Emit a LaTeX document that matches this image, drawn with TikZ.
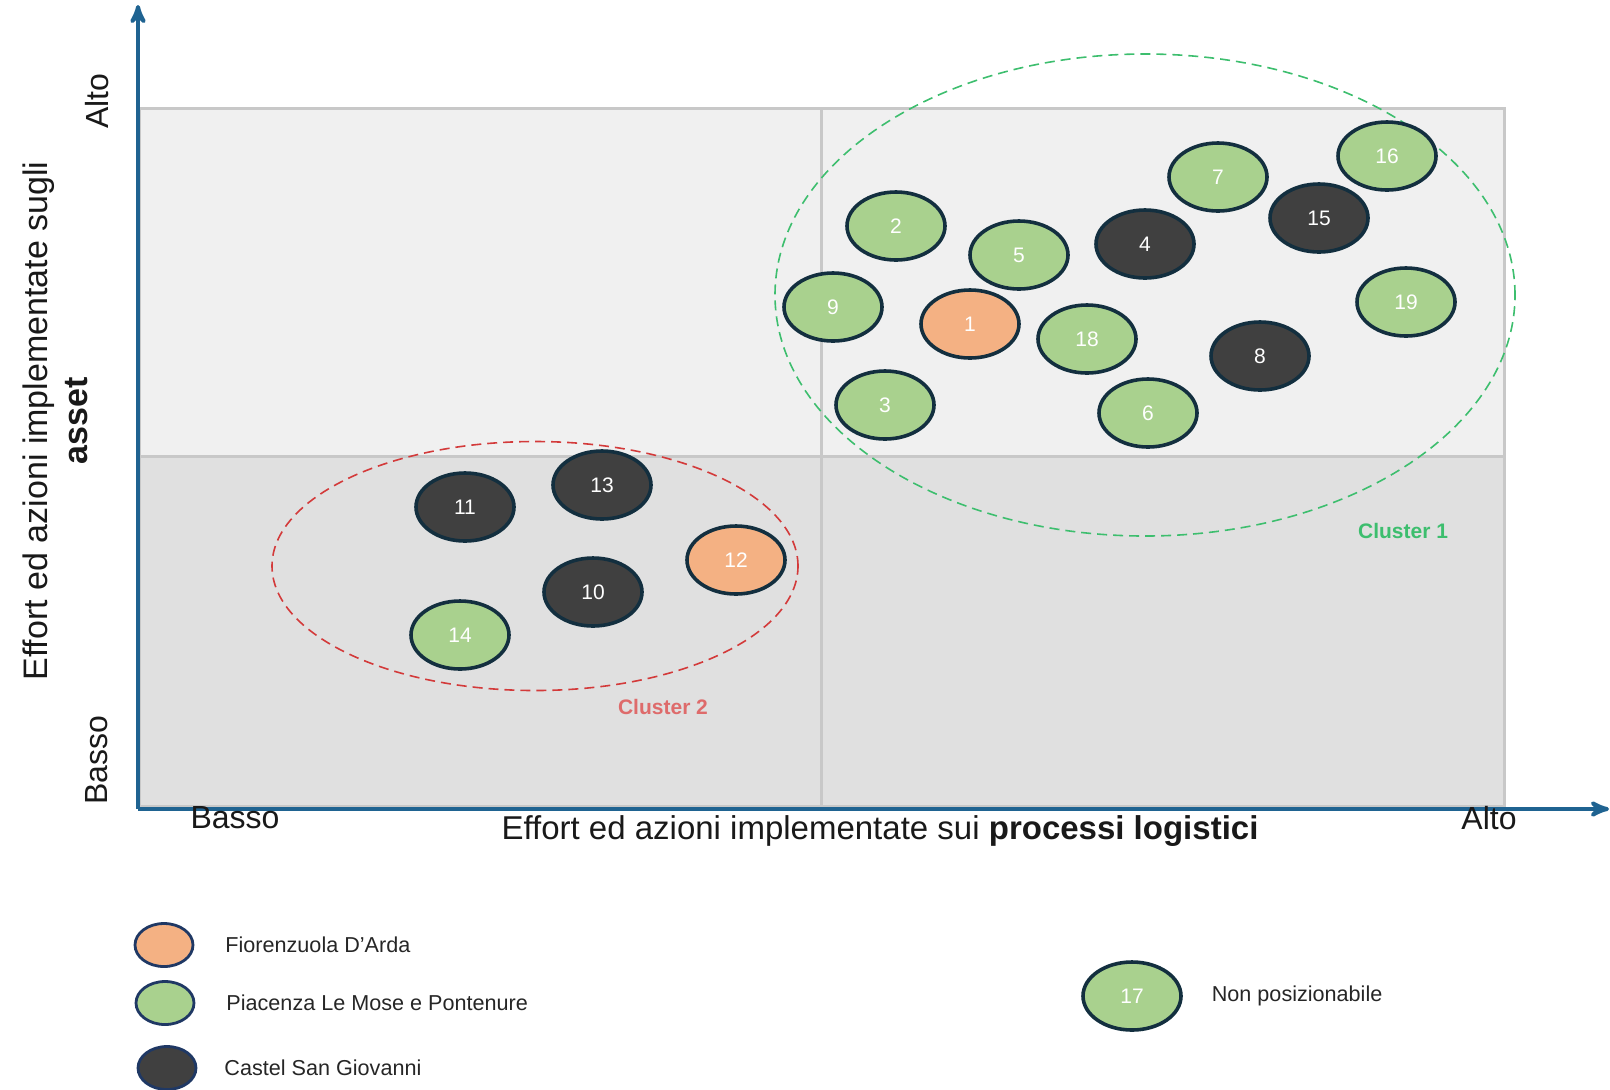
\documentclass[tikz,border=0pt]{standalone}
\usepackage{fontspec}
\setmainfont{Liberation Sans}
\setsansfont{Liberation Sans}
\usepackage{xcolor}
\definecolor{colorFiorenzuola}{HTML}{F4B183}
\definecolor{colorPiacenza}{HTML}{A9D18E}
\definecolor{colorCastel}{HTML}{404040}
\definecolor{colorBorder}{HTML}{132F3F}
\definecolor{colorLegendBorder}{HTML}{1F3864}
\definecolor{colorAxis}{HTML}{1F6391}
\definecolor{colorHigh}{HTML}{F0F0F0}
\definecolor{colorLow}{HTML}{E0E0E0}
\definecolor{colorGrid}{HTML}{C8C8C8}
\definecolor{colorClusterOne}{HTML}{3DBE6E}
\definecolor{colorClusterTwo}{HTML}{D33A3A}
\colorlet{colorClusterTwoText}{colorClusterTwo!75!white}
\usetikzlibrary{arrows, shapes.geometric, positioning}
\tikzset{
  site/.style={ellipse, draw=colorBorder, line width=1.8pt, minimum width=49pt, minimum height=34pt, inner sep=0pt, text=white, font=\sffamily\fontsize{10.5}{12}\selectfont},
  fiorenzuola/.style={site, fill=colorFiorenzuola},
  piacenza/.style={site, fill=colorPiacenza},
  castel/.style={site, fill=colorCastel},
  legendmark/.style={ellipse, draw=colorLegendBorder, line width=1.4pt, minimum width=29pt, minimum height=21.5pt, inner sep=0pt},
  legendtext/.style={text=black!85, font=\sffamily\fontsize{10.8}{12}\selectfont},
  axislabel/.style={text=black!90, font=\sffamily\fontsize{16}{19}\selectfont},
  cluster/.style={ellipse, dashed, dash pattern=on 5pt off 3pt, line width=0.8pt, inner sep=0pt}
}

\begin{document}
\begin{tikzpicture}[x=0.5pt, y=-0.5pt, >=stealth']
\useasboundingbox (0,0) rectangle (1610,1089);
% quadranti
\fill[colorHigh] (139,108) rectangle (1504,456);
\fill[colorLow] (139,456) rectangle (1504,806);
\draw[colorGrid, line width=1.5pt] (139,108) rectangle (1504,806);
\draw[colorGrid, line width=1.5pt] (139,456) -- (1504,456);
\draw[colorGrid, line width=1.5pt] (821,108) -- (821,806);
% assi
\coordinate (origin) at (138,809);
\coordinate (ytip) at (138,5);
\coordinate (xtip) at (1609,809);
\draw[->, colorAxis, line width=2pt] (origin) -- (ytip);
\draw[->, colorAxis, line width=2pt] (origin) -- (xtip);
\node[axislabel] (xlow) at (235,818) {Basso};
\node[axislabel] (xhigh) at (1489,818) {Alto};
\node[axislabel, font=\sffamily\fontsize{16.5}{19}\selectfont] (xtitle) at (880,831) {Effort ed azioni implementate sui \textbf{processi logistici}};
\node[axislabel, rotate=90] (ylow) at (97,760) {Basso};
\node[axislabel, rotate=90] (yhigh) at (97,101) {Alto};
\node[axislabel, rotate=90, align=center, font=\sffamily\fontsize{17}{20}\selectfont] (ytitle) at (55,421) {Effort ed azioni implementate sugli\\\textbf{asset}};
% cluster
\node[cluster, draw=colorClusterOne, minimum width=370pt, minimum height=241pt] (cluster1) at (1145,295) {};
\node[cluster, draw=colorClusterTwo, minimum width=263pt, minimum height=124.5pt] (cluster2) at (535,566) {};
\node[text=colorClusterOne, font=\sffamily\bfseries\fontsize{10.5}{12}\selectfont] (lab1) at (1403,531) {Cluster 1};
\node[text=colorClusterTwoText, font=\sffamily\bfseries\fontsize{10.5}{12}\selectfont] (lab2) at (663,707) {Cluster 2};
% siti
\node[fiorenzuola] (s1) at (970,324) {1};
\node[piacenza] (s2) at (896,226) {2};
\node[piacenza] (s3) at (885,405) {3};
\node[castel] (s4) at (1145,244) {4};
\node[piacenza] (s5) at (1019,255) {5};
\node[piacenza] (s6) at (1148,413) {6};
\node[piacenza] (s7) at (1218,177) {7};
\node[castel] (s8) at (1260,356) {8};
\node[piacenza] (s9) at (833,307) {9};
\node[castel] (s10) at (593,592) {10};
\node[castel] (s11) at (465,507) {11};
\node[fiorenzuola] (s12) at (736,560) {12};
\node[castel] (s13) at (602,485) {13};
\node[piacenza] (s14) at (460,635) {14};
\node[castel] (s15) at (1319,218) {15};
\node[piacenza] (s16) at (1387,156) {16};
\node[piacenza] (s18) at (1087,339) {18};
\node[piacenza] (s19) at (1406,302) {19};
% legenda
\node[legendmark, fill=colorFiorenzuola] (legF) at (164,945) {};
\node[legendmark, fill=colorPiacenza] (legP) at (165,1003) {};
\node[legendmark, fill=colorCastel] (legC) at (167,1068) {};
\node[legendtext, right=12pt of legF] (txtF) {Fiorenzuola D'Arda};
\node[legendtext, right=12pt of legP] (txtP) {Piacenza Le Mose e Pontenure};
\node[legendtext, right=10pt of legC] (txtC) {Castel San Giovanni};
\node[piacenza] (s17) at (1132,996) {17};
\node[legendtext, right=11pt of s17] (txt17) {Non posizionabile};
\end{tikzpicture}
\end{document}
